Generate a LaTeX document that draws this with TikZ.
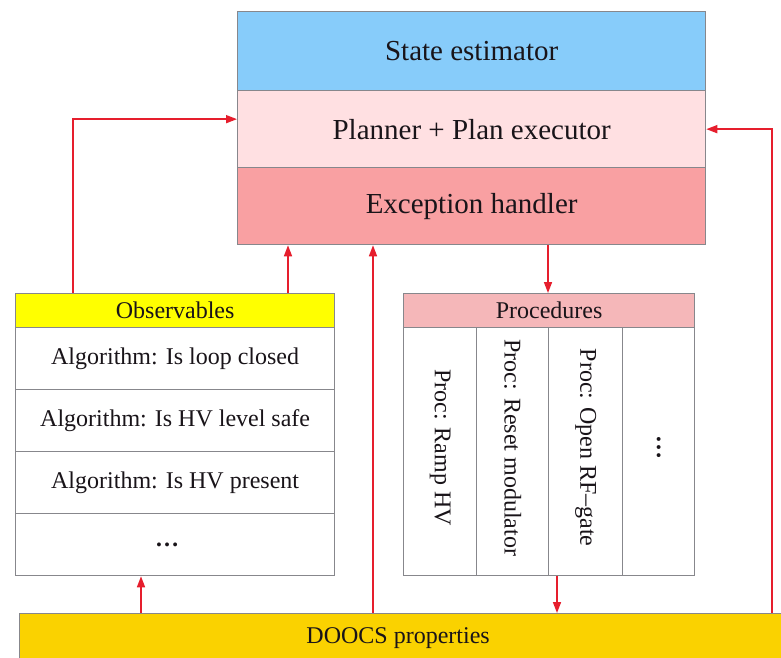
\documentclass[tikz,border=0pt]{standalone}
\usepackage{fontspec}
\setmainfont{Liberation Serif}
\usetikzlibrary{arrows.meta}

\definecolor{stateblue}{RGB}{135,204,250}
\definecolor{planpink}{RGB}{255,224,226}
\definecolor{excred}{RGB}{249,160,162}
\definecolor{obsyellow}{RGB}{255,255,0}
\definecolor{procpink}{RGB}{245,183,185}
\definecolor{doocsgold}{RGB}{250,210,0}
\definecolor{frame}{RGB}{135,135,140}
\definecolor{flow}{RGB}{230,30,45}
\definecolor{ink}{RGB}{25,20,25}

\tikzset{
  block/.style={draw=frame, line width=1.3pt, rectangle, inner sep=0pt,
    anchor=north west, align=center, text=ink},
  bigtext/.style={font=\fontsize{29}{33}\selectfont},
  smalltext/.style={font=\fontsize{24}{28}\selectfont, text=ink},
  arr/.style={draw=flow, line width=1.6pt,
    -{Triangle[length=11pt,width=8pt]}},
}

\begin{document}
\begin{tikzpicture}[x=1pt,y=-1pt]
\useasboundingbox[fill=white] (0,0) rectangle (781,657);

% central supervisor stack
\node[block, bigtext, fill=stateblue, minimum width=468pt, minimum height=79pt]
  (state) at (237,11) {State estimator};
\node[block, bigtext, fill=planpink, minimum width=468pt, minimum height=77pt]
  (planner) at (237,90) {Planner + Plan executor};
\node[block, bigtext, fill=excred, minimum width=468pt, minimum height=77pt]
  (exc) at (237,167) {Exception handler};

% observables list
\node[block, smalltext, fill=obsyellow, minimum width=319pt, minimum height=34pt]
  (obsh) at (15,293) {Observables};
\node[block, smalltext, fill=white, minimum width=319pt, minimum height=62pt]
  (obs1) at (15,327) {Algorithm: Is loop closed};
\node[block, smalltext, fill=white, minimum width=319pt, minimum height=62pt]
  (obs2) at (15,389) {Algorithm: Is HV level safe};
\node[block, smalltext, fill=white, minimum width=319pt, minimum height=62pt]
  (obs3) at (15,451) {Algorithm: Is HV present};
\node[block, smalltext, fill=white, minimum width=319pt, minimum height=62pt]
  (obs4) at (15,513) {\hspace*{-16pt}\raisebox{-2pt}{\textbf{\dots}}};

% procedures table
\node[block, smalltext, fill=procpink, minimum width=291pt, minimum height=34pt]
  (proch) at (403,293) {Procedures};
\node[block, fill=white, minimum width=73pt, minimum height=248pt]
  (proc1) at (403,327) {};
\node[block, fill=white, minimum width=72pt, minimum height=248pt]
  (proc2) at (476,327) {};
\node[block, fill=white, minimum width=74pt, minimum height=248pt]
  (proc3) at (548,327) {};
\node[block, fill=white, minimum width=72pt, minimum height=248pt]
  (proc4) at (622,327) {};
\node[smalltext, rotate=-90] (p1t) at ([yshift=4pt]proc1.center) {Proc: Ramp HV};
\node[smalltext, rotate=-90] (p2t) at ([yshift=4pt]proc2.center) {Proc: Reset modulator};
\node[smalltext, rotate=-90] (p3t) at ([yshift=4pt]proc3.center) {Proc: Open RF--gate};
\node[smalltext, rotate=-90] (p4t) at ([yshift=4pt]proc4.center) {\textbf{\dots}};

% control system property bus
\node[block, smalltext, fill=doocsgold, minimum width=775pt, minimum height=48pt]
  (doocs) at (19,613) {\hspace*{-18pt}\raisebox{2pt}{DOOCS properties}};

% signal flow
\coordinate (oa) at ([xshift=58pt]obsh.north west);
\coordinate (ob) at ([xshift=273pt]obsh.north west);
\coordinate (da) at ([xshift=354pt]doocs.north west);
\coordinate (db) at ([xshift=122pt]doocs.north west);
\coordinate (dc) at ([xshift=753pt]doocs.north west);
\coordinate (ea) at ([xshift=311pt]exc.south west);
\coordinate (pa) at ([xshift=9pt]proc3.south west);

\draw[arr] (oa) |- ([yshift=10pt]planner.west);
\draw[arr] (ob) -- (ob |- exc.south);
\draw[arr] (da) -- (da |- exc.south);
\draw[arr] (ea) -- (ea |- proch.north);
\draw[arr] (pa) -- (pa |- doocs.north);
\draw[arr] (db) -- (db |- obs4.south);
\draw[arr] (dc) |- (planner.east);
\end{tikzpicture}
\end{document}
